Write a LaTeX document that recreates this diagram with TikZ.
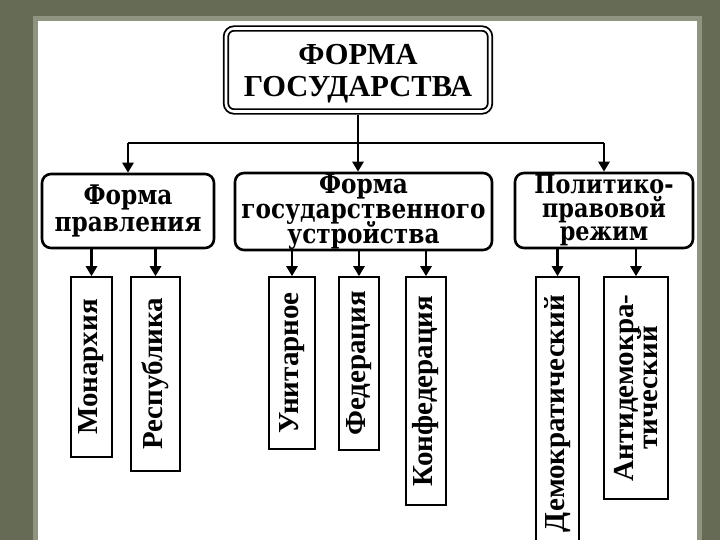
\documentclass[tikz,border=0pt]{standalone}
\usepackage{fontspec}
\setmainfont{Liberation Serif}
\newfontfamily\lvltwofont[FakeStretch=0.86]{DejaVu Serif}
\usetikzlibrary{arrows.meta}
\definecolor{bgolive}{HTML}{656B55}
\definecolor{frameband}{HTML}{8E947F}
\newcommand\tightlines{\lineskiplimit=-40pt\relax}
\tikzset{
  topbox/.style={draw=black, double=white, double distance=2.6pt, line width=1.8pt,
    rounded corners=8pt, inner sep=0pt, align=center, text depth=0pt,
    font=\bfseries\fontsize{30.5}{32}\selectfont\tightlines},
  midbox/.style={draw=black, line width=2.6pt, rounded corners=9pt, inner sep=0pt, align=center,
    font=\lvltwofont\bfseries\fontsize{27}{25}\selectfont\tightlines},
  leafbox/.style={draw=black, line width=1.6pt, inner sep=0pt,
    font=\bfseries\fontsize{29}{24}\selectfont},
  conn/.style={line width=2.6pt, draw=black},
  arr/.style={conn, -{Triangle[width=11pt,length=10pt]}}
}
\begin{document}
\begin{tikzpicture}[x=1pt,y=-1pt]
\useasboundingbox (0,0) rectangle (720,540);
\fill[bgolive] (0,0) rectangle (720,540);
\fill[frameband] (33,16) rectangle (702,540);
\fill[white] (38,21) rectangle (697,540);

% top
\node[topbox, minimum width=264pt, minimum height=83pt] (top) at (358,70) {ФОРМА\\ГОСУДАРСТВА};

% level 2
\node[midbox, minimum width=172pt, minimum height=74pt, font=\lvltwofont\bfseries\fontsize{27}{27}\selectfont\tightlines] (A) at (128,211) {Форма\\правления};
\node[midbox, minimum width=257pt, minimum height=77pt] (B) at (363.5,211.5) {Форма\\государственного\\устройства};
\node[midbox, minimum width=178pt, minimum height=75pt, font=\lvltwofont\bfseries\fontsize{26}{23.5}\selectfont\tightlines] (C) at (604,210.5) {Политико-\\правовой\\режим};

% level 3
\node[leafbox, minimum width=41pt, minimum height=180pt] (m1) at (91.5,367) {\rotatebox{90}{Монархия}};
\node[leafbox, minimum width=49pt, minimum height=194pt] (m2) at (155.5,374) {\rotatebox{90}{Республика}};
\node[leafbox, minimum width=46pt, minimum height=172pt] (u1) at (292,363) {\rotatebox{90}{Унитарное}};
\node[leafbox, minimum width=40pt, minimum height=173pt] (u2) at (359,363.5) {\rotatebox{90}{Федерация}};
\node[leafbox, minimum width=40pt, minimum height=228pt] (u3) at (426,391) {\rotatebox{90}{Конфедерация}};
\node[leafbox, minimum width=43pt, minimum height=273pt] (r1) at (557.5,413.5) {\rotatebox{90}{Демократический}};
\node[leafbox, minimum width=64pt, minimum height=222pt] (r2) at (636,388) {\rotatebox{90}{\parbox{210pt}{\centering\fontsize{29}{24}\selectfont\tightlines Антидемокра-\\тический}}};

% connectors
\coordinate (hub) at (358,143);
\draw[conn] ([yshift=-3pt]top.south) -- (hub);
\draw[conn] (hub -| A.north) -- (hub -| C.north);
\draw[arr] (hub -| A.north) -- (A.north);
\draw[arr] (hub) -- (hub |- B.north);
\draw[arr] (hub -| C.north) -- (C.north);

\draw[arr] (m1.north |- A.south) -- (m1.north);
\draw[arr] (m2.north |- A.south) -- (m2.north);
\draw[arr] (u1.north |- B.south) -- (u1.north);
\draw[arr] (u2.north |- B.south) -- (u2.north);
\draw[arr] (u3.north |- B.south) -- (u3.north);
\draw[arr] (r1.north |- C.south) -- (r1.north);
\draw[arr] (r2.north |- C.south) -- (r2.north);
\end{tikzpicture}
\end{document}
